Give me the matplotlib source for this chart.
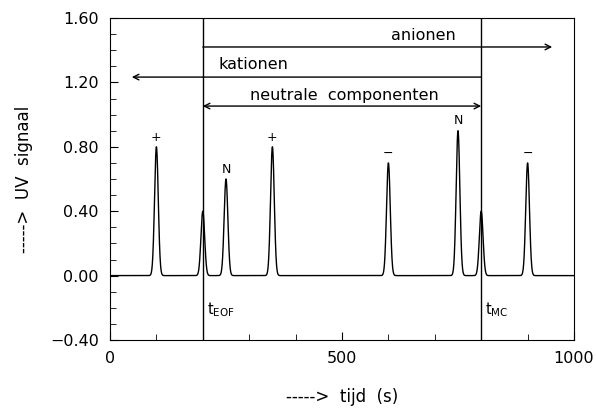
import numpy as np
import matplotlib
matplotlib.use("Agg")
import matplotlib.pyplot as plt
from matplotlib.ticker import MultipleLocator

# peak data (time in s, height in UV signal units)
peak_times = [100, 200, 250, 350, 600, 750, 800, 900]
peak_heights = [0.80, 0.40, 0.60, 0.80, 0.70, 0.90, 0.40, 0.70]
peak_labels = ["+", "", "N", "+", "\u2212", "N", "", "\u2212"]
peak_width = 4.0

t_eof = 200
t_mc = 800

y_ticks = [-0.40, 0.00, 0.40, 0.80, 1.20, 1.60]
x_ticks = [0, 500, 1000]

fig = plt.figure(figsize=(5.96, 4.08), dpi=100)
ax = fig.add_axes([110 / 596, 68 / 408, 464 / 596, 322 / 408])

t = np.linspace(0, 1000, 4001)
signal = np.zeros_like(t)
for t0, h in zip(peak_times, peak_heights):
    signal += h * np.exp(-0.5 * ((t - t0) / peak_width) ** 2)
ax.plot(t, signal, color="black", linewidth=1.0)

for t0, h, lab in zip(peak_times, peak_heights, peak_labels):
    if lab:
        ax.text(t0, h + 0.02, lab, ha="center", va="bottom", fontsize=9)

# marker lines for EOF and micelle
ax.axvline(t_eof, color="black", linewidth=1.0)
ax.axvline(t_mc, color="black", linewidth=1.0)
ax.text(t_eof + 8, -0.21, r"t$_{\mathregular{EOF}}$", fontsize=10.5, va="center")
ax.text(t_mc + 8, -0.21, r"t$_{\mathregular{MC}}$", fontsize=10.5, va="center")

arrow = dict(arrowstyle="->", color="black", linewidth=1.0, shrinkA=0, shrinkB=0)
ax.annotate("", xy=(953, 1.42), xytext=(t_eof, 1.42), arrowprops=arrow)
ax.annotate("", xy=(47, 1.233), xytext=(t_mc, 1.233), arrowprops=arrow)
ax.annotate("", xy=(t_mc, 1.053), xytext=(t_eof, 1.053),
            arrowprops=dict(arrowstyle="<->", color="black", linewidth=1.0,
                            shrinkA=0, shrinkB=0))
ax.text(675, 1.49, "anionen", ha="center", va="center", fontsize=11.5)
ax.text(233, 1.31, "kationen", ha="left", va="center", fontsize=11.5)
ax.text(506, 1.12, "neutrale  componenten", ha="center", va="center", fontsize=11.5)

ax.set_xlim(0, 1000)
ax.set_ylim(-0.40, 1.60)
ax.set_xticks(x_ticks)
ax.xaxis.set_minor_locator(MultipleLocator(100))
ax.set_yticks(y_ticks)
ax.yaxis.set_minor_locator(MultipleLocator(0.1))
ax.set_yticklabels([f"{v:.2f}".replace("-", "\u2212") for v in y_ticks])
ax.tick_params(which="both", direction="in", top=False, right=False, labelsize=11.5)
ax.tick_params(which="major", length=6, pad=8)
ax.tick_params(which="minor", length=4)

ax.set_xlabel("----->  tijd  (s)", fontsize=12)
ax.set_ylabel("----->  UV  signaal", fontsize=12)
ax.xaxis.set_label_coords(0.5, -0.149)
ax.yaxis.set_label_coords(-0.166, 0.5)

fig.savefig("out.png", dpi=100)
